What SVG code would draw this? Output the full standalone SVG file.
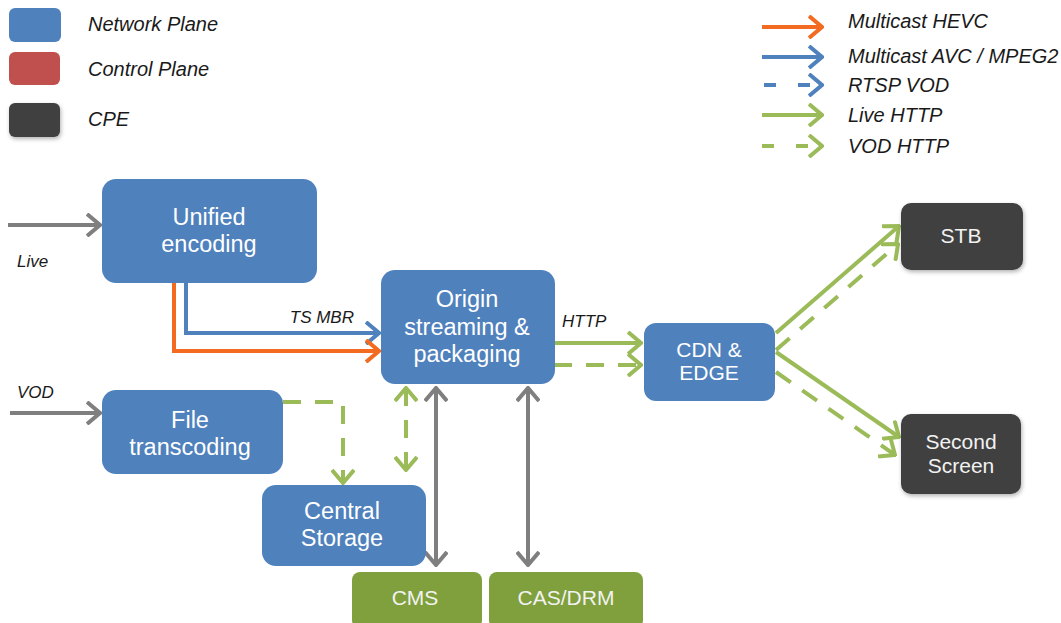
<svg xmlns="http://www.w3.org/2000/svg" width="1061" height="623" viewBox="0 0 1061 623">
<style>
.net{fill:#4f81bd}
.ctl{fill:#c0504d}
.cpe{fill:#404040}
.ext{fill:#7fa03c}
.nt{font-family:"Liberation Sans",Arial,sans-serif;font-size:23.5px;fill:#ffffff;text-anchor:middle}
.nt2{font-family:"Liberation Sans",Arial,sans-serif;font-size:21px;fill:#ffffff;text-anchor:middle}
.ct{font-family:"Liberation Sans",Arial,sans-serif;font-size:21px;fill:#f2f2f2;text-anchor:middle}
.lg{font-family:"Liberation Sans",Arial,sans-serif;font-size:20px;font-style:italic;fill:#1a1a1a}
.lb{font-family:"Liberation Sans",Arial,sans-serif;font-size:17px;font-style:italic;fill:#1a1a1a}
.c{fill:none;stroke-width:4}
.or{stroke:#f26b21}
.bl{stroke:#4f81bd}
.gr{stroke:#9bbb59}
.gy{stroke:#7f7f7f}
.d{stroke-dasharray:18 14}
</style>
<defs>
<marker id="aor" markerUnits="userSpaceOnUse" viewBox="0 0 16 24" markerWidth="16" markerHeight="24" refX="14" refY="12" orient="auto-start-reverse"><path d="M1,1 L14,12 L1,23" fill="none" stroke="#f26b21" stroke-width="4"/></marker>
<marker id="abl" markerUnits="userSpaceOnUse" viewBox="0 0 16 24" markerWidth="16" markerHeight="24" refX="14" refY="12" orient="auto-start-reverse"><path d="M1,1 L14,12 L1,23" fill="none" stroke="#4f81bd" stroke-width="4"/></marker>
<marker id="agr" markerUnits="userSpaceOnUse" viewBox="0 0 16 24" markerWidth="16" markerHeight="24" refX="14" refY="12" orient="auto-start-reverse"><path d="M1,1 L14,12 L1,23" fill="none" stroke="#9bbb59" stroke-width="4"/></marker>
<marker id="agy" markerUnits="userSpaceOnUse" viewBox="0 0 16 24" markerWidth="16" markerHeight="24" refX="14" refY="12" orient="auto-start-reverse"><path d="M1,1 L14,12 L1,23" fill="none" stroke="#7f7f7f" stroke-width="4"/></marker>
<filter id="sh" x="-10%" y="-10%" width="130%" height="140%"><feDropShadow dx="1" dy="2" stdDeviation="2" flood-color="#000" flood-opacity="0.3"/></filter>
</defs>
<rect width="1061" height="623" fill="#ffffff"/>

<g id="legend">
<rect x="9" y="8" width="52" height="34" rx="6" class="net"/>
<text x="88" y="31" class="lg">Network Plane</text>
<rect x="9" y="52" width="51" height="33" rx="6" class="ctl"/>
<text x="88" y="76" class="lg">Control Plane</text>
<rect x="9" y="103" width="51" height="34" rx="6" class="cpe" filter="url(#sh)"/>
<text x="88" y="126" class="lg">CPE</text>
<line x1="762" y1="27" x2="822" y2="27" class="c or" marker-end="url(#aor)"/>
<text x="848" y="28" class="lg">Multicast HEVC</text>
<line x1="762" y1="57" x2="822" y2="57" class="c bl" marker-end="url(#abl)"/>
<text x="848" y="63" class="lg">Multicast AVC / MPEG2</text>
<line x1="764" y1="85" x2="822" y2="85" class="c bl" stroke-dasharray="12 22" marker-end="url(#abl)"/>
<text x="848" y="92" class="lg">RTSP VOD</text>
<line x1="762" y1="115" x2="822" y2="115" class="c gr" marker-end="url(#agr)"/>
<text x="848" y="122" class="lg">Live HTTP</text>
<line x1="762" y1="146" x2="822" y2="146" class="c gr" stroke-dasharray="12 22" marker-end="url(#agr)"/>
<text x="848" y="153" class="lg">VOD HTTP</text>
</g>

<g id="connectors">
<line x1="8" y1="225" x2="100" y2="225" class="c gy" marker-end="url(#agy)"/>
<line x1="10" y1="413" x2="100" y2="413" class="c gy" marker-end="url(#agy)"/>
<polyline points="186,283 186,333 379,333" class="c bl" marker-end="url(#abl)"/>
<polyline points="174,283 174,351 379,351" class="c or" marker-end="url(#aor)"/>
<line x1="554" y1="343" x2="641" y2="343" class="c gr" marker-end="url(#agr)"/>
<line x1="554" y1="365" x2="641" y2="365" class="c gr d" marker-end="url(#agr)"/>
<line x1="776" y1="333" x2="899" y2="226" class="c gr" marker-end="url(#agr)"/>
<line x1="776" y1="350" x2="898" y2="244" class="c gr d" marker-end="url(#agr)"/>
<line x1="776" y1="352" x2="899" y2="437" class="c gr" marker-end="url(#agr)"/>
<line x1="776" y1="372" x2="895" y2="455" class="c gr d" marker-end="url(#agr)"/>
<polyline points="283,402 343,402 343,483" class="c gr d" marker-end="url(#agr)"/>
<line x1="406" y1="388" x2="406" y2="470" class="c gr d" marker-start="url(#agr)" marker-end="url(#agr)"/>
<line x1="436" y1="388" x2="436" y2="565" class="c gy" marker-start="url(#agy)" marker-end="url(#agy)"/>
<line x1="528" y1="388" x2="528" y2="565" class="c gy" marker-start="url(#agy)" marker-end="url(#agy)"/>
<text x="17" y="267" class="lb">Live</text>
<text x="17" y="398" class="lb">VOD</text>
<text x="354" y="323" class="lb" text-anchor="end">TS MBR</text>
<text x="562" y="327" class="lb">HTTP</text>
</g>

<g id="unified-encoding">
<rect x="102" y="179" width="215" height="104" rx="14" class="net"/>
<text x="209" y="225" class="nt">Unified</text>
<text x="209" y="252" class="nt">encoding</text>
</g>
<g id="file-transcoding">
<rect x="102" y="390" width="181" height="84" rx="14" class="net"/>
<text x="190" y="428" class="nt">File</text>
<text x="190" y="455" class="nt">transcoding</text>
</g>
<g id="origin">
<rect x="381" y="270" width="174" height="114" rx="14" class="net"/>
<text x="467" y="307" class="nt">Origin</text>
<text x="467" y="335" class="nt">streaming &amp;</text>
<text x="467" y="362" class="nt">packaging</text>
</g>
<g id="cdn-edge">
<rect x="644" y="323" width="131" height="78" rx="12" class="net"/>
<text x="709" y="357" class="nt2">CDN &amp;</text>
<text x="709" y="380" class="nt2">EDGE</text>
</g>
<g id="stb">
<rect x="901" y="203" width="122" height="67" rx="10" class="cpe" filter="url(#sh)"/>
<text x="961" y="243" class="ct">STB</text>
</g>
<g id="second-screen">
<rect x="901" y="414" width="120" height="80" rx="10" class="cpe" filter="url(#sh)"/>
<text x="961" y="449" class="ct">Second</text>
<text x="961" y="473" class="ct">Screen</text>
</g>
<g id="central-storage">
<rect x="262" y="485" width="164" height="81" rx="14" class="net"/>
<text x="342" y="519" class="nt">Central</text>
<text x="342" y="546" class="nt">Storage</text>
</g>
<g id="cms">
<rect x="352" y="572" width="130" height="56" rx="8" class="ext"/>
<text x="415" y="605" class="ct">CMS</text>
</g>
<g id="cas-drm">
<rect x="489" y="572" width="154" height="56" rx="8" class="ext"/>
<text x="566" y="605" class="ct">CAS/DRM</text>
</g>
</svg>
